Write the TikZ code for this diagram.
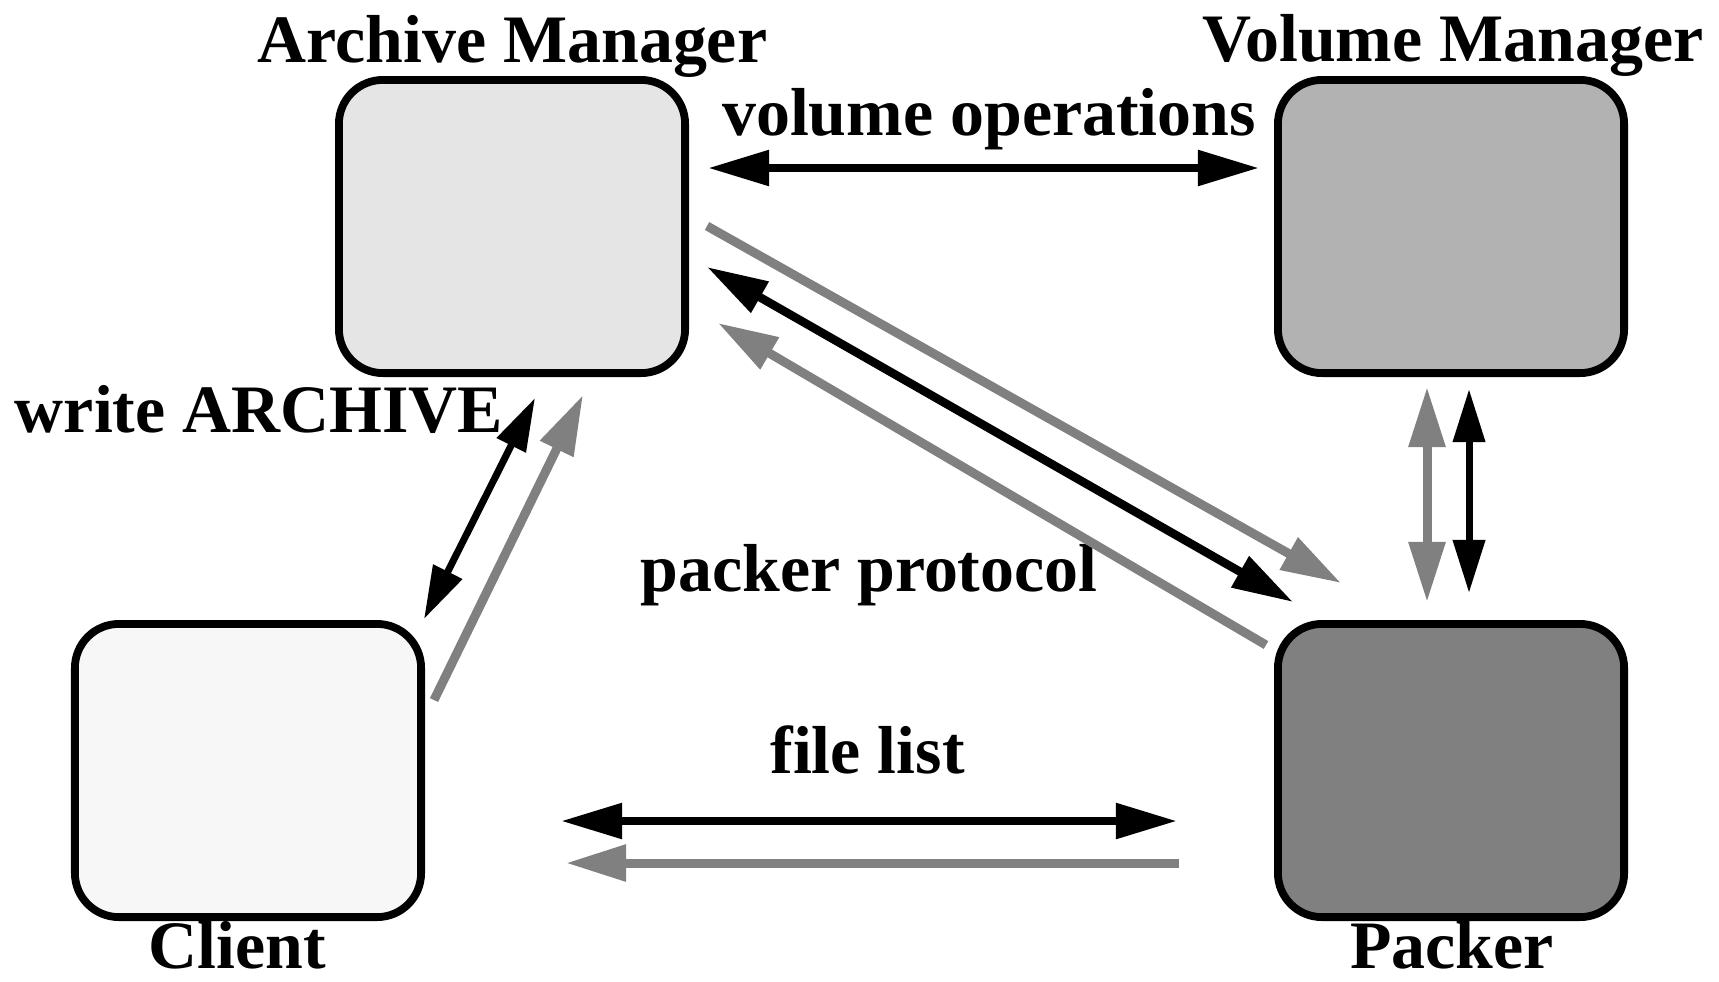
\documentclass[tikz,border=0pt]{standalone}
\usepackage{fontspec}
\setmainfont{Liberation Serif}
\usetikzlibrary{arrows.meta}

\definecolor{amfill}{gray}{0.90}
\definecolor{vmfill}{gray}{0.70}
\definecolor{clfill}{gray}{0.97}
\definecolor{pkfill}{gray}{0.50}
\definecolor{flowgray}{gray}{0.50}

\tikzset{
  box/.style={draw=black, line width=0.078cm, rounded corners=0.44cm,
              minimum width=3.46cm, minimum height=2.93cm, inner sep=0pt},
  lbl/.style={font=\fontsize{19.3}{22}\selectfont\bfseries, inner sep=0pt, anchor=base},
  bigtip/.tip={Triangle[length=0.61cm, width=0.34cm]},
  smalltip/.tip={Triangle[length=0.53cm, width=0.31cm]},
  graytip/.tip={Triangle[length=0.60cm, width=0.35cm]},
  blkboth/.style={draw=black, line width=0.085cm, {bigtip}-{bigtip}},
  blkthin/.style={draw=black, line width=0.07cm, {smalltip}-{smalltip}},
  grayone/.style={draw=flowgray, line width=0.09cm, -{graytip}},
  grayboth/.style={draw=flowgray, line width=0.09cm, {graytip}-{graytip}},
}

\begin{document}
\begin{tikzpicture}[x=0.01cm, y=-0.01cm]
  \useasboundingbox (0,0) rectangle (1719,981);

  % process boxes
  \node[box, fill=amfill] (am) at (512,226.5) {};
  \node[box, fill=vmfill] (vm) at (1451,226.5) {};
  \node[box, fill=clfill] (cl) at (248,770.5) {};
  \node[box, fill=pkfill] (pk) at (1451,770.5) {};

  % names and message labels
  \node[lbl] (amname) at (512.5,62) {Archive Manager};
  \node[lbl] (vmname) at (1453,61) {Volume Manager};
  \node[lbl] (clname) at (237.5,968) {Client};
  \node[lbl] (pkname) at (1452,968) {Packer};
  \node[lbl] (volops) at (989,135) {volume operations};
  \node[lbl] (writea) at (259,432) {write ARCHIVE};
  \node[lbl] (packp)  at (869,591) {packer protocol};
  \node[lbl] (flist)  at (867.5,773) {file list};

  % arrow end points
  \coordinate (amVa) at (708,168);
  \coordinate (vmVa) at (1259,168);

  \coordinate (amGa) at (707,226);
  \coordinate (pkGa) at (1341,583);
  \coordinate (amBa) at (707,267);
  \coordinate (pkBa) at (1293,602);
  \coordinate (pkGb) at (1266,645);
  \coordinate (amGb) at (718,323);

  \coordinate (amCb) at (535,398);
  \coordinate (clCb) at (424,619);
  \coordinate (clCg) at (434,700);
  \coordinate (amCg) at (583,395);

  \coordinate (vmPg) at (1427,387);
  \coordinate (pkPg) at (1427,602);
  \coordinate (vmPb) at (1469,389);
  \coordinate (pkPb) at (1469,593);

  \coordinate (clFb) at (561,821);
  \coordinate (pkFb) at (1177,821);
  \coordinate (pkFg) at (1179,863);
  \coordinate (clFg) at (566,863);

  % Archive Manager <-> Volume Manager
  \draw[blkboth] (amVa) -- (vmVa);

  % Archive Manager <-> Packer
  \draw[grayone] (amGa) -- (pkGa);
  \draw[blkboth] (amBa) -- (pkBa);
  \draw[grayone] (pkGb) -- (amGb);

  % Client <-> Archive Manager
  \draw[blkthin] (amCb) -- (clCb);
  \draw[grayone] (clCg) -- (amCg);

  % Volume Manager <-> Packer
  \draw[grayboth] (vmPg) -- (pkPg);
  \draw[blkthin] (vmPb) -- (pkPb);

  % Client <-> Packer
  \draw[blkboth] (clFb) -- (pkFb);
  \draw[grayone] (pkFg) -- (clFg);
\end{tikzpicture}
\end{document}
